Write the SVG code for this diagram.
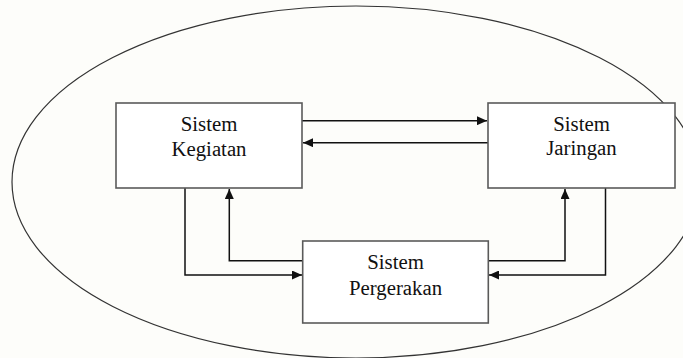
<svg xmlns="http://www.w3.org/2000/svg" width="683" height="358" viewBox="0 0 683 358">
<defs>
<style>
.box{fill:#ffffff;stroke:#5a5a5a;stroke-width:1.6}
.lbl{font-family:"Liberation Serif","Times New Roman",serif;font-size:20.8px;fill:#111;text-anchor:middle}
.con{fill:none;stroke:#111;stroke-width:1.5}
.env{fill:none;stroke:#333;stroke-width:1.2}
</style>
<marker id="ah" viewBox="0 0 10 9" refX="10" refY="4.5" markerWidth="10" markerHeight="9" markerUnits="userSpaceOnUse" orient="auto">
<path d="M0,0 L10,4.5 L0,9 Z" fill="#111"/>
</marker>
</defs>
<rect width="683" height="358" fill="#fdfdfa"/>
<g id="environment">
<ellipse class="env" cx="356" cy="182" rx="344" ry="176"/>
</g>
<g id="connectors">
<path class="con" d="M302,120.7 H487" marker-end="url(#ah)"/>
<path class="con" d="M488,142.7 H303" marker-end="url(#ah)"/>
<path class="con" d="M185,188 V275 H302" marker-end="url(#ah)"/>
<path class="con" d="M302.7,260.7 H229.3 V189" marker-end="url(#ah)"/>
<path class="con" d="M488.3,260.7 H565 V189" marker-end="url(#ah)"/>
<path class="con" d="M605.5,188 V275 H489" marker-end="url(#ah)"/>
</g>
<g id="sistem-kegiatan">
<rect class="box" x="116" y="103" width="186" height="85"/>
<text class="lbl" x="209" y="130.7">Sistem</text>
<text class="lbl" x="209" y="156">Kegiatan</text>
</g>
<g id="sistem-jaringan">
<rect class="box" x="488" y="103" width="187" height="85"/>
<text class="lbl" x="581.5" y="130.7">Sistem</text>
<text class="lbl" x="581.5" y="155">Jaringan</text>
</g>
<g id="sistem-pergerakan">
<rect class="box" x="302.7" y="241" width="185.6" height="82"/>
<text class="lbl" x="395.5" y="269.3">Sistem</text>
<text class="lbl" x="395.5" y="295">Pergerakan</text>
</g>
</svg>
